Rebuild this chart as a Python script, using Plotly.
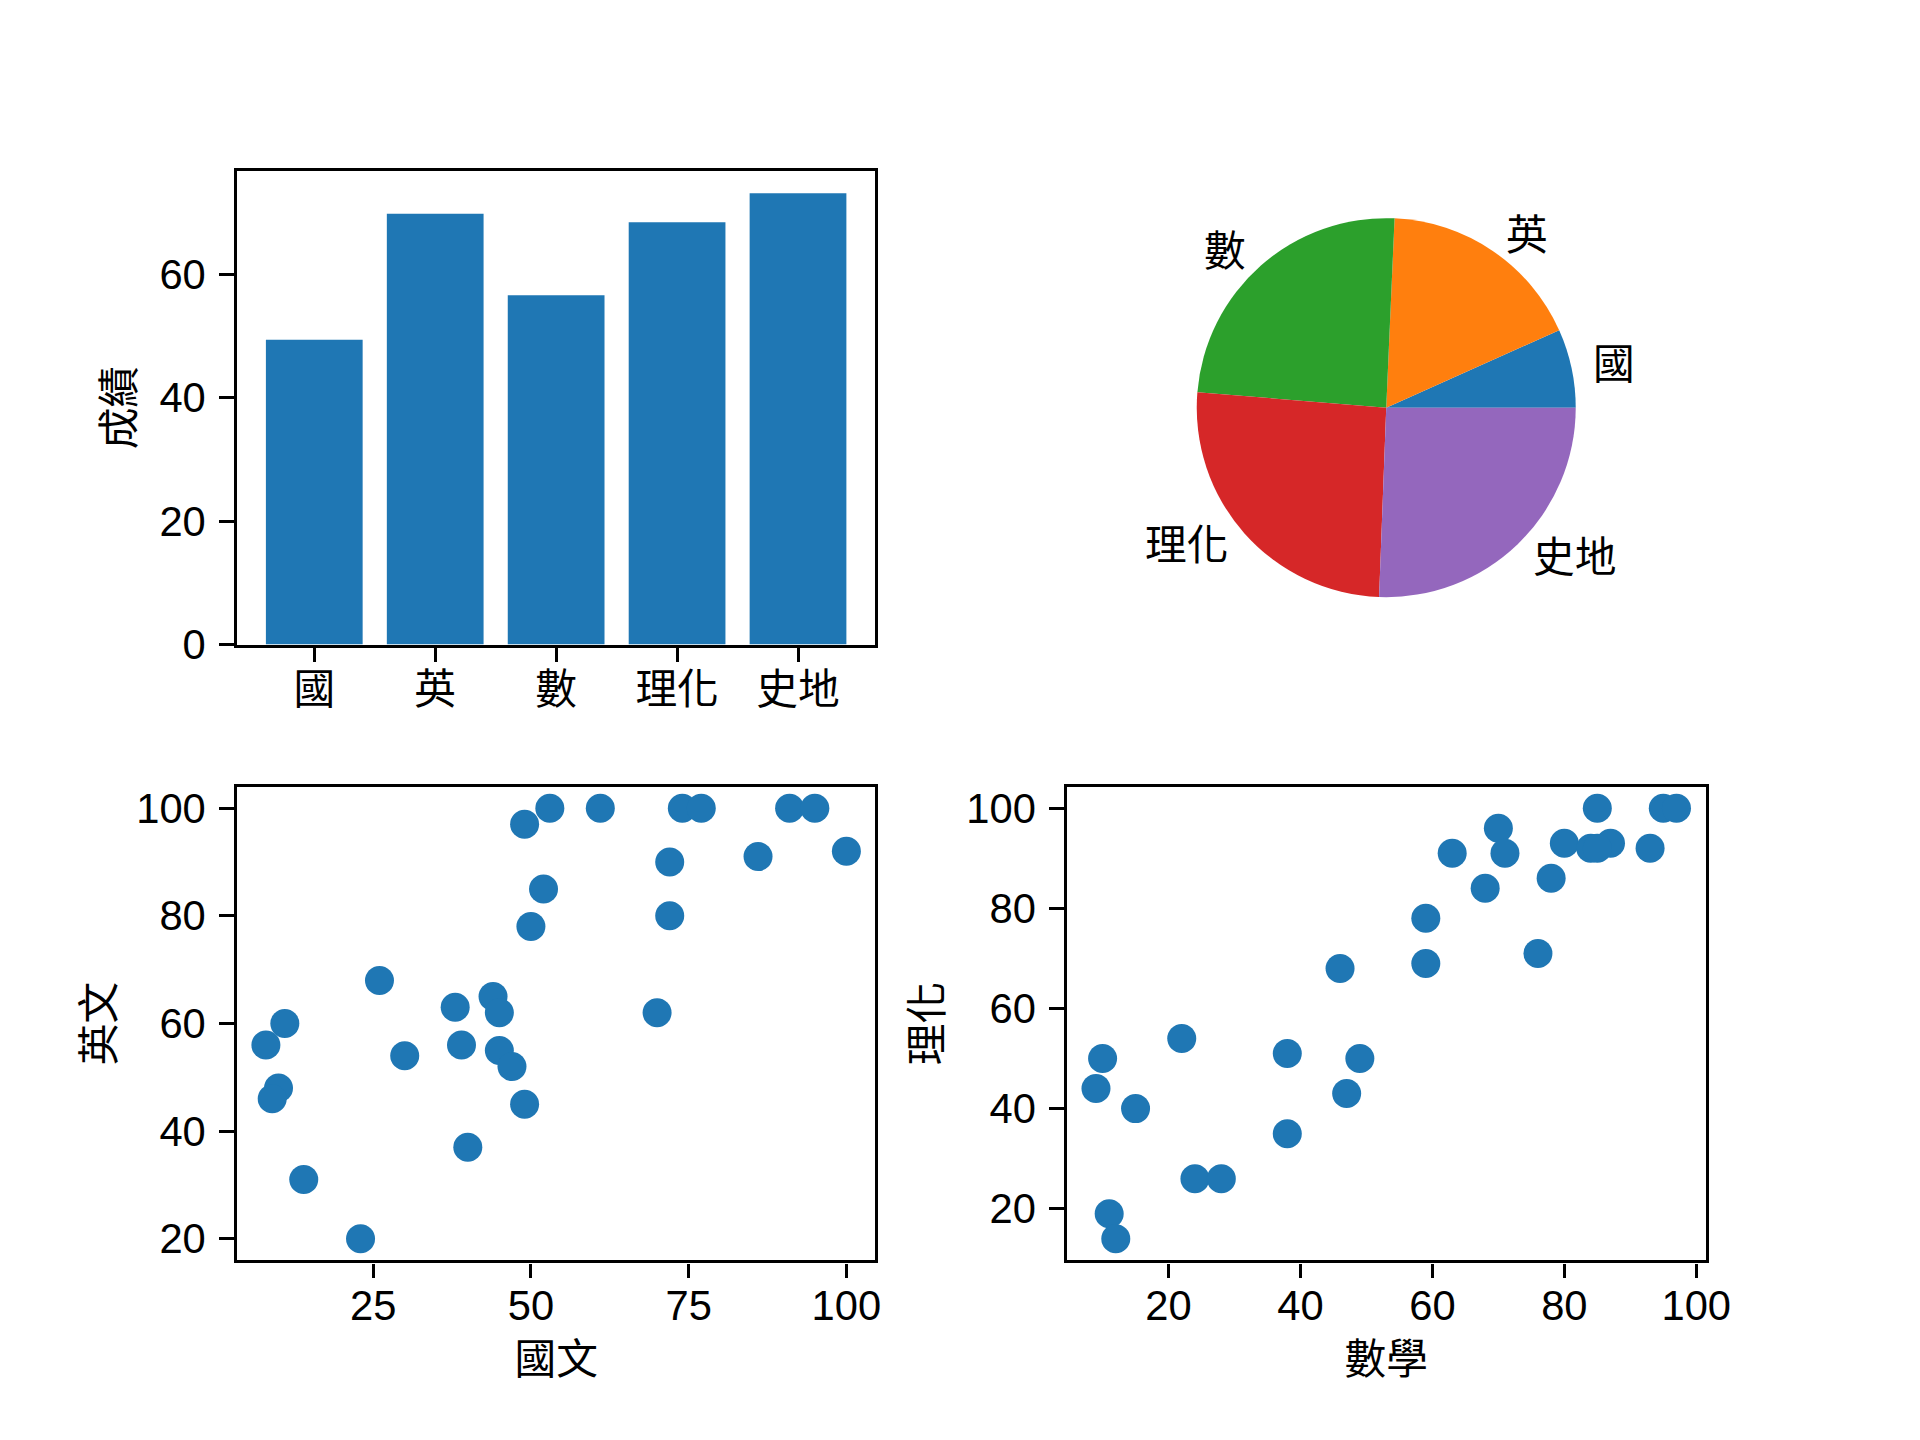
import math
import plotly.graph_objects as go

# ---------------- data ----------------
subjects = ["國", "英", "數", "理化", "史地"]
avg_scores = [49.4, 69.8, 56.6, 68.4, 73.1]

pie_values = [6.7, 17.6, 24.4, 25.7, 25.6]
pie_colors = ["#1f77b4", "#ff7f0e", "#2ca02c", "#d62728", "#9467bd"]

chinese = [53, 61, 74, 77, 91, 95, 49, 100, 86, 72, 52, 72, 50, 26, 44,
           38, 45, 70, 11, 8, 39, 45, 30, 47, 10, 9, 49, 40, 14, 23]
english = [100, 100, 100, 100, 100, 100, 97, 92, 91, 90, 85, 80, 78, 68, 65,
           63, 62, 62, 60, 56, 56, 55, 54, 52, 48, 46, 45, 37, 31, 20]

maths = [85, 95, 97, 70, 80, 87, 84, 85, 93, 63, 71, 78, 68, 59, 76,
         59, 46, 22, 38, 10, 49, 9, 47, 15, 38, 24, 28, 11, 12]
science = [100, 100, 100, 96, 93, 93, 92, 92, 92, 91, 91, 86, 84, 78, 71,
           69, 68, 54, 51, 50, 50, 44, 43, 40, 35, 26, 26, 19, 14]

# ---------------- layout geometry (matplotlib-like) ----------------
W, H = 1920, 1440
FONT = "Liberation Sans, Arial, Noto Sans CJK TC, sans-serif"
FS = 41.7
BLUE = "#1f77b4"
LW = 3.3
TICKLEN = 14.6

left, right, bottom, top = 0.125, 0.9, 0.11, 0.88
ws, hs = 0.3, 0.3
aw = (right - left) / (2 + ws)
ah = (top - bottom) / (2 + hs)
col1 = [left, left + aw]
col2 = [right - aw, right]
row1 = [top - ah, top]
row2 = [bottom, bottom + ah]


def pad_range(vals, frac=0.05):
    lo, hi = min(vals), max(vals)
    span = hi - lo
    return [lo - frac * span, hi + frac * span]


def axis_style(**kw):
    d = dict(
        showline=True, mirror=True, linecolor="black", linewidth=LW,
        ticks="outside", ticklen=TICKLEN, tickwidth=LW, tickcolor="black",
        showgrid=False, zeroline=False,
        tickfont=dict(family=FONT, size=FS, color="black"),
        title_font=dict(family=FONT, size=FS, color="black"),
    )
    d.update(kw)
    return d


fig = go.Figure()

fig.add_trace(go.Bar(x=subjects, y=avg_scores, marker_color=BLUE,
                     marker_line_width=0, width=0.8,
                     xaxis="x", yaxis="y", showlegend=False))

fig.add_trace(go.Scatter(x=chinese, y=english, mode="markers",
                         marker=dict(color=BLUE, size=29, line_width=0),
                         xaxis="x2", yaxis="y2", showlegend=False))

fig.add_trace(go.Scatter(x=maths, y=science, mode="markers",
                         marker=dict(color=BLUE, size=29, line_width=0),
                         xaxis="x3", yaxis="y3", showlegend=False))

# pie: matplotlib pie fills its axes with limits +-1.25 and equal aspect
cx = (col2[0] + col2[1]) / 2 * W
cy = (row1[0] + row1[1]) / 2 * H
r_px = min(aw * W, ah * H) / 2.5
total = sum(pie_values)
first_deg = 360.0 * pie_values[0] / total
fig.add_trace(go.Pie(
    labels=subjects, values=pie_values, sort=False,
    direction="counterclockwise", rotation=90 - first_deg,
    marker=dict(colors=pie_colors, line=dict(width=0)),
    textinfo="none", hoverinfo="label+value", showlegend=False,
    domain=dict(x=[(cx - r_px) / W, (cx + r_px) / W],
                y=[(cy - r_px) / H, (cy + r_px) / H]),
))

annotations = []
acc = 0.0
for lab, v in zip(subjects, pie_values):
    mid = 2 * math.pi * (acc + v / 2) / total
    acc += v
    ux, uy = math.cos(mid), math.sin(mid)
    lx = cx + 1.1 * r_px * ux
    ly = cy + 1.1 * r_px * uy
    annotations.append(dict(
        x=lx / W, y=ly / H, xref="paper", yref="paper", text=lab,
        showarrow=False, xanchor="left" if ux > 0 else "right",
        yanchor="middle", font=dict(family=FONT, size=FS, color="black")))

bar_n = len(subjects)
bar_w = 0.8
bar_lo, bar_hi = -bar_w / 2, bar_n - 1 + bar_w / 2
bar_m = 0.05 * (bar_hi - bar_lo)

XSO = -8
fig.update_layout(
    width=W, height=H,
    margin=dict(l=0, r=0, t=0, b=0),
    paper_bgcolor="white", plot_bgcolor="white",
    font=dict(family=FONT, size=FS, color="black"),
    xaxis=axis_style(domain=col1, anchor="y", type="category",
                     range=[bar_lo - bar_m, bar_hi + bar_m],
                     ticklabelstandoff=XSO),
    yaxis=axis_style(domain=row1, anchor="x",
                     range=[0, max(avg_scores) * 1.05],
                     tickmode="linear", tick0=0, dtick=20,
                     ticklabelstandoff=5,
                     title=dict(text="成績", standoff=12)),
    xaxis2=axis_style(domain=col1, anchor="y2", range=pad_range(chinese),
                      tickmode="linear", tick0=0, dtick=25,
                      ticklabelstandoff=XSO,
                      title=dict(text="國文", standoff=17)),
    yaxis2=axis_style(domain=row2, anchor="x2", range=pad_range(english),
                      tickmode="linear", tick0=0, dtick=20,
                      ticklabelstandoff=5,
                      title=dict(text="英文", standoff=9)),
    xaxis3=axis_style(domain=col2, anchor="y3", range=pad_range(maths),
                      tickmode="linear", tick0=0, dtick=20,
                      ticklabelstandoff=XSO,
                      title=dict(text="數學", standoff=17)),
    yaxis3=axis_style(domain=row2, anchor="x3", range=pad_range(science),
                      tickmode="linear", tick0=0, dtick=20,
                      ticklabelstandoff=5,
                      title=dict(text="理化", standoff=11)),
    annotations=annotations,
)

fig.write_html("out.html")
